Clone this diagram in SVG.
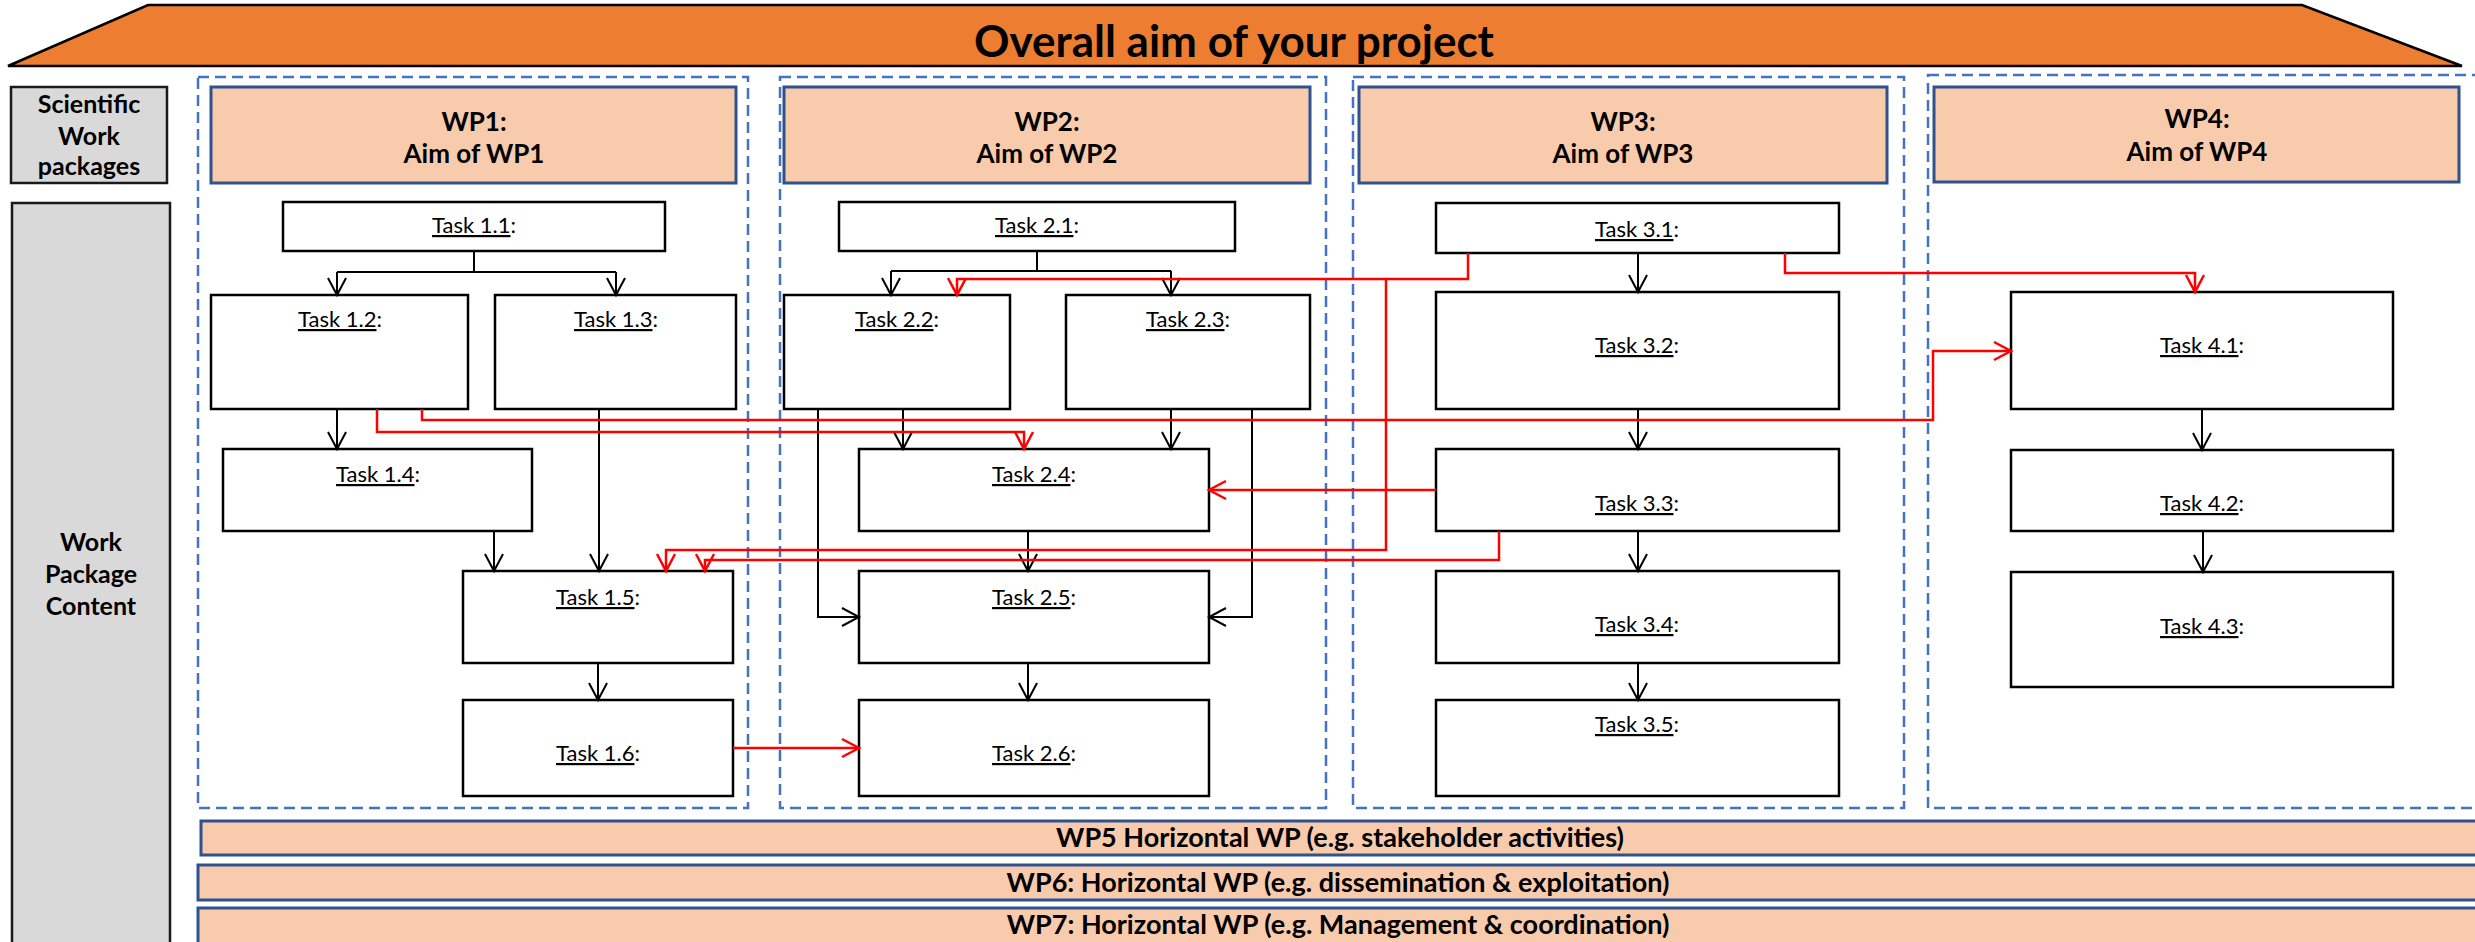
<svg xmlns="http://www.w3.org/2000/svg" width="2475" height="942" viewBox="0 0 2475 942">
  <style>
    .aim { fill: #ED7D31; stroke: #000; stroke-width: 2.5; }
    .side { fill: #D9D9D9; stroke: #1a1a1a; stroke-width: 2.5; }
    .wpbox { fill: none; stroke: #4472C4; stroke-width: 2.5; stroke-dasharray: 11 6; }
    .head { fill: #F8CBAD; stroke: #2F528F; stroke-width: 3; }
    .task { fill: #FFFFFF; stroke: #000; stroke-width: 2.5; }
    .bold { font-family: Lato, "Open Sans", sans-serif; font-weight: 700; fill: #000; text-anchor: middle; }
    .lbl { font-family: Lato, "Open Sans", sans-serif; font-size: 22px; fill: #000; text-anchor: middle; }
    .u { text-decoration: underline; }
    .blk { fill: none; stroke: #000; stroke-width: 2; }
    .red { fill: none; stroke: #FF0000; stroke-width: 2.5; }
  </style>
  <defs>
    <marker id="arrBlack" viewBox="-20 -12 24 24" refX="0" refY="0" markerWidth="24" markerHeight="24" markerUnits="userSpaceOnUse" orient="auto">
      <path d="M-17,-9 L0,0 L-17,9" fill="none" stroke="#000" stroke-width="2"/>
    </marker>
    <marker id="arrRed" viewBox="-20 -12 24 24" refX="0" refY="0" markerWidth="24" markerHeight="24" markerUnits="userSpaceOnUse" orient="auto">
      <path d="M-17,-9 L0,0 L-17,9" fill="none" stroke="#FF0000" stroke-width="2.5"/>
    </marker>
  </defs>

  <!-- project roof -->
  <g id="overall-aim">
    <polygon class="aim" points="148,5 2302,5 2462,66 8,66"/>
    <text class="bold" x="1234" y="57" font-size="44">Overall aim of your project</text>
  </g>

  <!-- row captions -->
  <g id="caption-scientific">
    <rect class="side" x="11" y="87" width="156" height="96"/>
    <text class="bold" font-size="25"><tspan x="89" y="113">Scientific</tspan><tspan x="89" y="145">Work</tspan><tspan x="89" y="175">packages</tspan></text>
  </g>
  <g id="caption-content">
    <rect class="side" x="12" y="203" width="158" height="760"/>
    <text class="bold" font-size="25"><tspan x="91" y="551">Work</tspan><tspan x="91" y="583">Package</tspan><tspan x="91" y="615">Content</tspan></text>
  </g>

  <!-- work package frames -->
  <g id="wp-frames">
    <rect class="wpbox" x="198" y="77" width="550" height="731"/>
    <rect class="wpbox" x="780" y="77" width="546" height="731"/>
    <rect class="wpbox" x="1353" y="77" width="551" height="731"/>
    <rect class="wpbox" x="1928" y="75" width="560" height="733"/>
  </g>

  <!-- work package headers -->
  <g id="wp1">
    <rect class="head" x="211" y="87" width="525" height="96"/>
    <text class="bold" font-size="26"><tspan x="474" y="131">WP1:</tspan><tspan x="474" y="163">Aim of WP1</tspan></text>
  </g>
  <g id="wp2">
    <rect class="head" x="784" y="87" width="526" height="96"/>
    <text class="bold" font-size="26"><tspan x="1047" y="131">WP2:</tspan><tspan x="1047" y="163">Aim of WP2</tspan></text>
  </g>
  <g id="wp3">
    <rect class="head" x="1359" y="87" width="528" height="96"/>
    <text class="bold" font-size="26"><tspan x="1623" y="131">WP3:</tspan><tspan x="1623" y="163">Aim of WP3</tspan></text>
  </g>
  <g id="wp4">
    <rect class="head" x="1934" y="87" width="525" height="95"/>
    <text class="bold" font-size="26"><tspan x="2197" y="128">WP4:</tspan><tspan x="2197" y="161">Aim of WP4</tspan></text>
  </g>

  <!-- WP1 tasks -->
  <g id="task-1-1"><rect class="task" x="283" y="202" width="382" height="49"/><text class="lbl" x="474" y="233"><tspan class="u">Task 1.1</tspan>:</text></g>
  <g id="task-1-2"><rect class="task" x="211" y="295" width="257" height="114"/><text class="lbl" x="340" y="327"><tspan class="u">Task 1.2</tspan>:</text></g>
  <g id="task-1-3"><rect class="task" x="495" y="295" width="241" height="114"/><text class="lbl" x="616" y="327"><tspan class="u">Task 1.3</tspan>:</text></g>
  <g id="task-1-4"><rect class="task" x="223" y="449" width="309" height="82"/><text class="lbl" x="378" y="482"><tspan class="u">Task 1.4</tspan>:</text></g>
  <g id="task-1-5"><rect class="task" x="463" y="571" width="270" height="92"/><text class="lbl" x="598" y="605"><tspan class="u">Task 1.5</tspan>:</text></g>
  <g id="task-1-6"><rect class="task" x="463" y="700" width="270" height="96"/><text class="lbl" x="598" y="761"><tspan class="u">Task 1.6</tspan>:</text></g>

  <!-- WP2 tasks -->
  <g id="task-2-1"><rect class="task" x="839" y="202" width="396" height="49"/><text class="lbl" x="1037" y="233"><tspan class="u">Task 2.1</tspan>:</text></g>
  <g id="task-2-2"><rect class="task" x="784" y="295" width="226" height="114"/><text class="lbl" x="897" y="327"><tspan class="u">Task 2.2</tspan>:</text></g>
  <g id="task-2-3"><rect class="task" x="1066" y="295" width="244" height="114"/><text class="lbl" x="1188" y="327"><tspan class="u">Task 2.3</tspan>:</text></g>
  <g id="task-2-4"><rect class="task" x="859" y="449" width="350" height="82"/><text class="lbl" x="1034" y="482"><tspan class="u">Task 2.4</tspan>:</text></g>
  <g id="task-2-5"><rect class="task" x="859" y="571" width="350" height="92"/><text class="lbl" x="1034" y="605"><tspan class="u">Task 2.5</tspan>:</text></g>
  <g id="task-2-6"><rect class="task" x="859" y="700" width="350" height="96"/><text class="lbl" x="1034" y="761"><tspan class="u">Task 2.6</tspan>:</text></g>

  <!-- WP3 tasks -->
  <g id="task-3-1"><rect class="task" x="1436" y="203" width="403" height="50"/><text class="lbl" x="1637" y="237"><tspan class="u">Task 3.1</tspan>:</text></g>
  <g id="task-3-2"><rect class="task" x="1436" y="292" width="403" height="117"/><text class="lbl" x="1637" y="353"><tspan class="u">Task 3.2</tspan>:</text></g>
  <g id="task-3-3"><rect class="task" x="1436" y="449" width="403" height="82"/><text class="lbl" x="1637" y="511"><tspan class="u">Task 3.3</tspan>:</text></g>
  <g id="task-3-4"><rect class="task" x="1436" y="571" width="403" height="92"/><text class="lbl" x="1637" y="632"><tspan class="u">Task 3.4</tspan>:</text></g>
  <g id="task-3-5"><rect class="task" x="1436" y="700" width="403" height="96"/><text class="lbl" x="1637" y="732"><tspan class="u">Task 3.5</tspan>:</text></g>

  <!-- WP4 tasks -->
  <g id="task-4-1"><rect class="task" x="2011" y="292" width="382" height="117"/><text class="lbl" x="2202" y="353"><tspan class="u">Task 4.1</tspan>:</text></g>
  <g id="task-4-2"><rect class="task" x="2011" y="450" width="382" height="81"/><text class="lbl" x="2202" y="511"><tspan class="u">Task 4.2</tspan>:</text></g>
  <g id="task-4-3"><rect class="task" x="2011" y="572" width="382" height="115"/><text class="lbl" x="2202" y="634"><tspan class="u">Task 4.3</tspan>:</text></g>

  <!-- horizontal work packages -->
  <g id="wp5">
    <rect class="head" x="201" y="821" width="2290" height="34"/>
    <text class="bold" x="1340" y="847" font-size="27">WP5 Horizontal WP (e.g. stakeholder activities)</text>
  </g>
  <g id="wp6">
    <rect class="head" x="198" y="865" width="2293" height="35"/>
    <text class="bold" x="1338" y="892" font-size="27">WP6: Horizontal WP (e.g. dissemination &amp; exploitation)</text>
  </g>
  <g id="wp7">
    <rect class="head" x="198" y="908" width="2293" height="40"/>
    <text class="bold" x="1338" y="934" font-size="27">WP7: Horizontal WP (e.g. Management &amp; coordination)</text>
  </g>

  <!-- dependencies -->
  <g id="connectors">
    <!-- within WP1 -->
    <path class="blk" d="M474,251 V272 M337,272 H616"/>
    <path class="blk" d="M337,272 V295" marker-end="url(#arrBlack)"/>
    <path class="blk" d="M616,272 V295" marker-end="url(#arrBlack)"/>
    <path class="blk" d="M337,409 V449" marker-end="url(#arrBlack)"/>
    <path class="blk" d="M599,409 V571" marker-end="url(#arrBlack)"/>
    <path class="blk" d="M494,531 V571" marker-end="url(#arrBlack)"/>
    <path class="blk" d="M598,663 V700" marker-end="url(#arrBlack)"/>
    <!-- within WP2 -->
    <path class="blk" stroke-width="1.5" d="M1037,251 V271 M891,271 H1171"/>
    <path class="blk" d="M891,271 V295" marker-end="url(#arrBlack)"/>
    <path class="blk" d="M1171,271 V295" marker-end="url(#arrBlack)"/>
    <path class="blk" d="M903,409 V449" marker-end="url(#arrBlack)"/>
    <path class="blk" d="M1171,409 V449" marker-end="url(#arrBlack)"/>
    <path class="blk" d="M818,409 V617 H859" marker-end="url(#arrBlack)"/>
    <path class="blk" d="M1252,409 V617 H1209" marker-end="url(#arrBlack)"/>
    <path class="blk" d="M1028,531 V571" marker-end="url(#arrBlack)"/>
    <path class="blk" d="M1028,663 V700" marker-end="url(#arrBlack)"/>
    <!-- within WP3 -->
    <path class="blk" d="M1638,253 V292" marker-end="url(#arrBlack)"/>
    <path class="blk" d="M1638,409 V449" marker-end="url(#arrBlack)"/>
    <path class="blk" d="M1638,531 V571" marker-end="url(#arrBlack)"/>
    <path class="blk" d="M1638,663 V700" marker-end="url(#arrBlack)"/>
    <!-- within WP4 -->
    <path class="blk" d="M2202,409 V450" marker-end="url(#arrBlack)"/>
    <path class="blk" d="M2203,531 V572" marker-end="url(#arrBlack)"/>
    <!-- across work packages -->
    <path class="red" d="M377,409 V432 H1024 V449" marker-end="url(#arrRed)"/>
    <path class="red" d="M422,409 V420 H1933 V351 H2011" marker-end="url(#arrRed)"/>
    <path class="red" d="M1468,253 V279 H957 V295" marker-end="url(#arrRed)"/>
    <path class="red" d="M1386,279 V550 H666 V571" marker-end="url(#arrRed)"/>
    <path class="red" d="M1499,531 V560 H705 V571" marker-end="url(#arrRed)"/>
    <path class="red" d="M1436,490 H1209" marker-end="url(#arrRed)"/>
    <path class="red" d="M733,748 H859" marker-end="url(#arrRed)"/>
    <path class="red" d="M1785,253 V273 H2195 V292" marker-end="url(#arrRed)"/>
  </g>
</svg>
